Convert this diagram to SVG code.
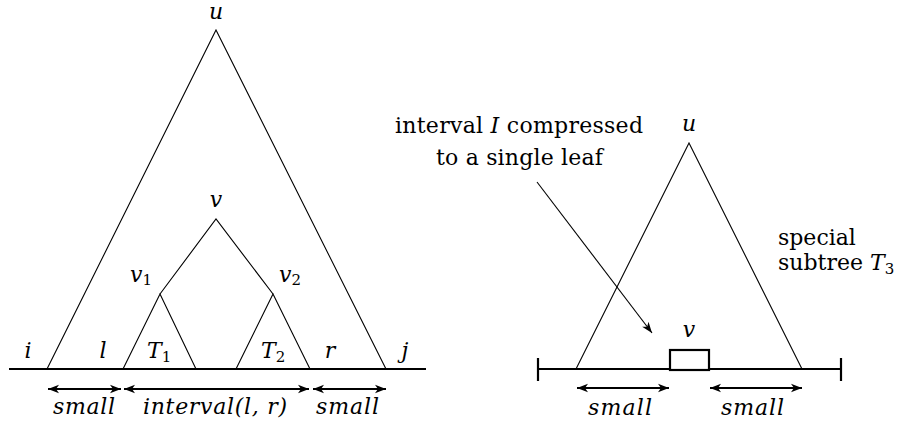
<svg xmlns="http://www.w3.org/2000/svg" width="902" height="425" viewBox="0 0 902 425">
<defs>
<style>
text{font-family:'DejaVu Serif',serif;fill:#000}
.t{fill:none;stroke:#000;stroke-width:1.1}
.b{fill:none;stroke:#000;stroke-width:2.2}
.a{fill:none;stroke:#000;stroke-width:2;marker-start:url(#ah);marker-end:url(#ah)}
.m{font-size:22px;font-style:italic}
.i{font-style:italic}
.r{font-size:22px}
.s{font-style:normal;font-size:15px}
</style>
<marker id="ah" viewBox="-11 -5 12 10" refX="0" refY="0" markerWidth="12" markerHeight="10" markerUnits="userSpaceOnUse" orient="auto-start-reverse">
<path d="M0,0 L-11,-4.2 L-8,0 L-11,4.2 Z" fill="#000"/>
</marker>
<marker id="ah2" viewBox="-11 -5 12 10" refX="0" refY="0" markerWidth="12" markerHeight="10" markerUnits="userSpaceOnUse" orient="auto">
<path d="M0,0 L-11,-4 L-8,0 L-11,4 Z" fill="#000"/>
</marker>
</defs>

<g id="left-tree">
<g id="baseline-left"><line class="b" x1="9" y1="369" x2="426" y2="369"/></g>
<g id="node-u-left">
<polyline class="t" points="47,369 216,30 386,369"/>
<text class="m" x="216" y="19" text-anchor="middle">u</text>
</g>
<g id="node-v-left">
<polyline class="t" points="160,294 216,219 273,294"/>
<text class="m" x="216" y="207" text-anchor="middle">v</text>
</g>
<g id="node-v1">
<polyline class="t" points="123,369 160,294 196,369"/>
<text class="m" x="130" y="282">v<tspan class="s" dy="3">1</tspan></text>
</g>
<g id="node-v2">
<polyline class="t" points="236,369 273,294 310,369"/>
<text class="m" x="279" y="282">v<tspan class="s" dy="3">2</tspan></text>
</g>
<g id="labels-left">
<text class="m" x="28" y="358" text-anchor="middle">i</text>
<text class="m" x="103" y="358" text-anchor="middle">l</text>
<text class="m" x="147" y="358">T<tspan class="s" dy="4">1</tspan></text>
<text class="m" x="261" y="358">T<tspan class="s" dy="4">2</tspan></text>
<text class="m" x="330" y="358" text-anchor="middle">r</text>
<text class="m" x="405" y="358" text-anchor="middle">j</text>
</g>
</g>

<g id="connectors">
<line class="a" x1="48" y1="389" x2="121" y2="389"/>
<line class="a" x1="124" y1="389" x2="309" y2="389"/>
<line class="a" x1="313" y1="389" x2="386" y2="389"/>
<line class="a" x1="577" y1="388" x2="669" y2="388"/>
<line class="a" x1="710" y1="388" x2="802" y2="388"/>
<line x1="537" y1="182" x2="652" y2="333" stroke="#000" stroke-width="1.1" marker-end="url(#ah2)"/>
</g>

<g id="interval-labels">
<text class="m" x="53" y="414" textLength="62" lengthAdjust="spacing">small</text>
<text class="m" x="143" y="414" textLength="144" lengthAdjust="spacing">interval(l, r)</text>
<text class="m" x="316" y="414" textLength="63" lengthAdjust="spacing">small</text>
<text class="m" x="588" y="415" textLength="64" lengthAdjust="spacing">small</text>
<text class="m" x="721" y="415" textLength="63" lengthAdjust="spacing">small</text>
</g>

<g id="right-tree">
<g id="baseline-right">
<line class="b" x1="538" y1="369" x2="841" y2="369"/>
<line class="b" x1="538" y1="358" x2="538" y2="381"/>
<line class="b" x1="841" y1="358" x2="841" y2="381"/>
</g>
<g id="node-u-right">
<polyline class="t" points="576,369 689,143 802,369"/>
<text class="m" x="689" y="131" text-anchor="middle">u</text>
</g>
<g id="node-v-right">
<rect x="670" y="350" width="39" height="20" fill="#fff" stroke="#000" stroke-width="2.2"/>
<text class="m" x="689" y="337" text-anchor="middle">v</text>
</g>
<g id="note-compressed">
<text class="r" x="395" y="133" textLength="248" lengthAdjust="spacing">interval <tspan class="i">I</tspan> compressed</text>
<text class="r" x="436" y="165" textLength="167" lengthAdjust="spacing">to a single leaf</text>
</g>
<g id="note-special">
<text class="r" x="778" y="245">special</text>
<text class="r" x="778" y="270">subtree <tspan class="i">T</tspan><tspan class="s" dy="4">3</tspan></text>
</g>
</g>
</svg>
